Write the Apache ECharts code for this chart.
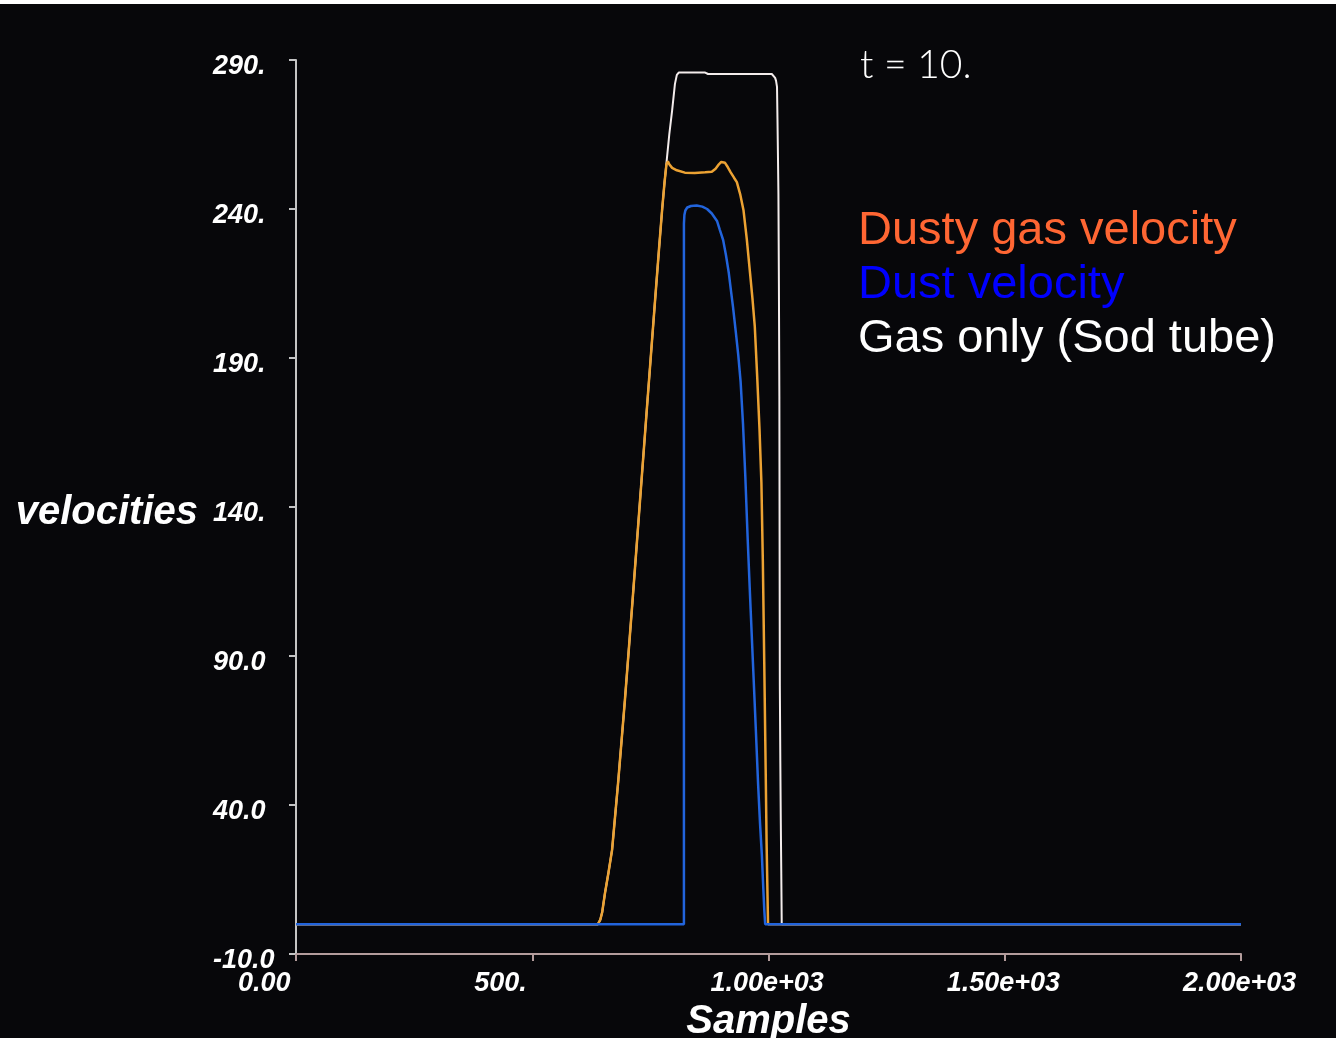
<!DOCTYPE html>
<html>
<head>
<meta charset="utf-8">
<script src="https://cdn.jsdelivr.net/npm/echarts@6/dist/echarts.min.js"></script>
<style>
  html, body { margin: 0; padding: 0; background: #ffffff; }
  #chart { width: 1336px; height: 1034px; margin-top: 4px; background: #07070a; }
</style>
</head>
<body>
<div id="chart"></div>
<script>
// Axis ticks and their printed labels
const sampleTicks = [0, 500, 1000, 1500, 2000];
const sampleTickLabels = ['0.00', '500.', '1.00e+03', '1.50e+03', '2.00e+03'];
const velocityTicks = [-10, 40, 90, 140, 190, 240, 290];
const velocityTickLabels = ['-10.0', '40.0', '90.0', '140.', '190.', '240.', '290.'];

const timeLabel = 't = 10.';

// Gas only (Sod tube)
const gasSamples = [0, 639, 644, 648, 654, 661, 669, 682, 696, 712, 728, 744, 760, 768, 775, 780,
  785, 790, 796, 802, 806, 810, 866, 872, 1007, 1011, 1014, 1016, 1018, 1019, 1020, 1021,
  1022, 1023, 1024, 1025, 1026, 1027, 1028, 2000];
const gasVelocity = [0, 0, 1.5, 4, 10.5, 17, 25, 48, 75, 108, 142, 176, 209.5, 226, 240, 249,
  257, 265, 273, 282, 285, 285.8, 285.8, 285.3, 285.3, 285, 284, 283, 281, 270, 258, 245,
  215, 177, 80, 55, 35, 18, 0, 0];

// Dusty gas velocity
const dustyGasSamples = [0, 639, 644, 648, 654, 661, 669, 682, 696, 712, 728, 744, 760, 768, 775, 780,
  784, 787, 790, 796, 806, 823, 844, 866, 880, 888, 895, 900, 904, 908, 914, 920, 927, 933,
  940, 947, 954, 961, 966, 971, 976, 981, 985, 988, 991, 994, 996, 998, 999, 2000];
const dustyGasVelocity = [0, 0, 1.5, 4, 10.5, 17, 25, 48, 75, 108, 142, 176, 209.5, 226, 240, 249,
  255, 256, 255, 253.8, 253, 252.2, 252.1, 252.3, 252.5, 253.5, 255, 255.8, 256, 255.5, 254, 252.3, 250.5, 249,
  245, 239.7, 230, 218.4, 210, 200.5, 184, 166, 148, 122, 88, 52, 27, 9, 0, 0];

// Dust velocity
const dustSamples = [0, 821, 821, 822, 824, 828, 836, 848, 860, 870, 880, 891, 897, 904, 910, 916,
  921, 925, 931, 936, 941, 946, 951, 956, 961, 967, 973, 978, 982, 986, 989, 991, 993, 2000];
const dustVelocity = [0, 0, 235, 238, 239.5, 240.5, 241, 241.2, 240.8, 240, 238.5, 236, 233, 229.6, 224.5, 218.5,
  212, 207, 198.4, 191, 182, 168, 150, 129, 110, 88, 66, 47, 34, 23, 12, 5, 0, 0];

const pairs = (xs, ys) => xs.map((x, i) => [x, ys[i]]);

const tickFont = {
  fontFamily: 'Liberation Sans',
  fontStyle: 'italic',
  fontWeight: 'bold',
  fontSize: 27,
  color: '#ffffff'
};

const axisNameFont = {
  fontFamily: 'Liberation Sans',
  fontStyle: 'italic',
  fontWeight: 'bold',
  fontSize: 40,
  color: '#ffffff'
};

const chart = echarts.init(document.getElementById('chart'), null, { renderer: 'canvas' });

chart.setOption({
  backgroundColor: '#07070a',
  animation: false,
  title: {
    text: timeLabel,
    left: 860,
    top: 42,
    padding: 0,
    textStyle: {
      fontFamily: 'Lato',
      fontWeight: 300,
      fontSize: 39,
      color: '#ffffff'
    }
  },
  legend: {
    orient: 'vertical',
    left: 853,
    top: 200,
    padding: 0,
    itemGap: 0,
    itemWidth: 0,
    itemHeight: 10,
    icon: 'none',
    selectedMode: false,
    textStyle: {
      fontFamily: 'Liberation Sans',
      fontSize: 47,
      lineHeight: 54
    },
    data: [
      { name: 'Dusty gas velocity', textStyle: { color: '#ff6633' } },
      { name: 'Dust velocity', textStyle: { color: '#0000ff' } },
      { name: 'Gas only (Sod tube)', textStyle: { color: '#ffffff' } }
    ]
  },
  grid: { left: 296, right: 95, top: 56, bottom: 84, outerBoundsMode: 'none', containLabel: false },
  xAxis: {
    type: 'value',
    min: 0,
    max: 2000,
    name: 'Samples',
    nameLocation: 'middle',
    nameGap: 43,
    nameTextStyle: axisNameFont,
    axisLine: { show: true, onZero: false, lineStyle: { color: '#b39c9c', width: 2 } },
    axisTick: { show: true, customValues: sampleTicks, length: 7, lineStyle: { color: '#b39c9c', width: 2 } },
    splitLine: { show: false },
    axisLabel: {
      customValues: sampleTicks,
      margin: 16,
      formatter: v => '{t|' + sampleTickLabels[sampleTicks.indexOf(v)] + '}',
      rich: { t: Object.assign({ width: 116, align: 'left' }, tickFont) }
    }
  },
  yAxis: {
    type: 'value',
    min: -10,
    max: 290,
    name: '{n|velocities}',
    nameLocation: 'middle',
    nameRotate: 0,
    nameGap: 98,
    nameTextStyle: {
      rich: { n: Object.assign({ padding: [12, 0, 0, 0] }, axisNameFont) }
    },
    axisLine: { show: true, onZero: false, lineStyle: { color: '#c4c4c4', width: 2 } },
    axisTick: { show: true, customValues: velocityTicks, length: 7, lineStyle: { color: '#c4c4c4', width: 2 } },
    splitLine: { show: false },
    axisLabel: {
      customValues: velocityTicks,
      margin: 0,
      formatter: v => '{t|' + velocityTickLabels[velocityTicks.indexOf(v)] + '}',
      rich: { t: Object.assign({ width: 83, align: 'left', padding: [13, 0, 0, 0] }, tickFont) }
    }
  },
  series: [
    {
      name: 'Gas only (Sod tube)',
      type: 'line',
      data: pairs(gasSamples, gasVelocity),
      showSymbol: false,
      lineStyle: { color: '#f3ecec', width: 2 },
      itemStyle: { color: '#ffffff' },
      z: 2
    },
    {
      name: 'Dusty gas velocity',
      type: 'line',
      data: pairs(dustyGasSamples, dustyGasVelocity),
      showSymbol: false,
      lineStyle: { color: '#eca233', width: 2.5 },
      itemStyle: { color: '#ff6633' },
      z: 3
    },
    {
      name: 'Dust velocity',
      type: 'line',
      data: pairs(dustSamples, dustVelocity),
      showSymbol: false,
      lineStyle: { color: '#2264dc', width: 2.5 },
      itemStyle: { color: '#0000ff' },
      z: 4
    }
  ]
});
</script>
</body>
</html>
